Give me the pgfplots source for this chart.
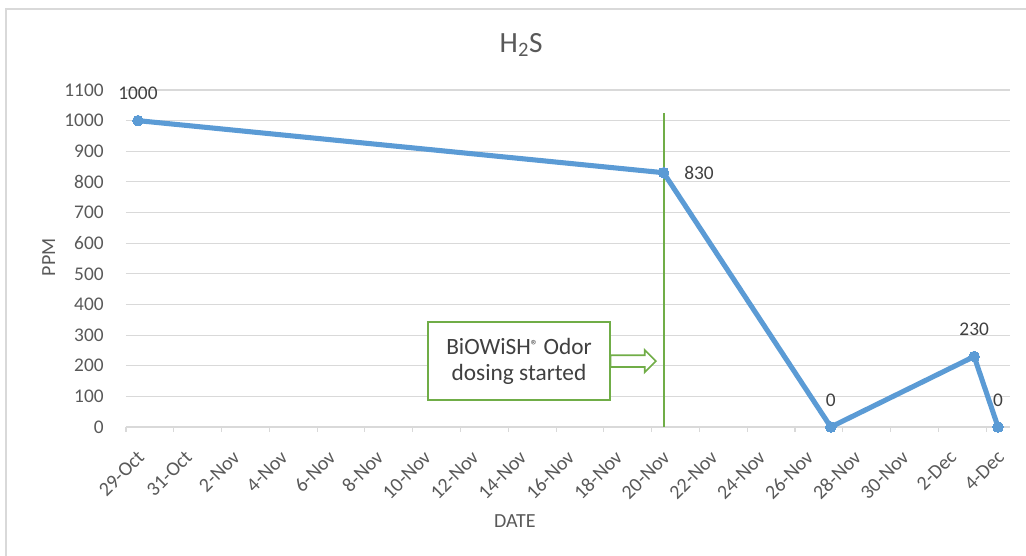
\documentclass[border=0pt]{standalone}
\usepackage{fontspec}
\setmainfont{Carlito}
\usepackage{pgfplots}
\pgfplotsset{compat=1.18}
\usepackage{pgfplotstable}
\usetikzlibrary{shapes.arrows}

\definecolor{lineblue}{HTML}{5B9BD5}
\definecolor{markgreen}{HTML}{70AD47}
\definecolor{txtgray}{HTML}{595959}
\definecolor{txtdark}{HTML}{404040}
\definecolor{gridgray}{HTML}{D9D9D9}

% days counted from 29-Oct; points sit in the middle of their day
\pgfplotstableread{
x    y
0.5  1000
22.5 830
29.5 0
35.5 230
36.5 0
}\hstable

\begin{document}
\begin{tikzpicture}
\path[use as bounding box] (-94.5pt,-96.75pt) rectangle (675pt,320.25pt);
\draw[gridgray, line width=0.8pt] (-90pt,-96.75pt) -- (-90pt,313.5pt) -- (675pt,313.5pt);
\begin{axis}[
    at={(0,0)}, anchor=south west,
    scale only axis,
    width=663pt, height=252.75pt,
    xmin=0, xmax=37,
    ymin=0, ymax=1100,
    clip=false,
    axis lines*=left,
    x axis line style={gridgray, line width=0.8pt},
    y axis line style={draw=none},
    xtick={0,2,...,36},
    xticklabels={29-Oct,31-Oct,2-Nov,4-Nov,6-Nov,8-Nov,10-Nov,12-Nov,14-Nov,16-Nov,18-Nov,20-Nov,22-Nov,24-Nov,26-Nov,28-Nov,30-Nov,2-Dec,4-Dec},
    ytick={0,100,...,1100},
    tick align=outside,
    major tick length=3.75pt,
    xtick style={gridgray, line width=0.8pt},
    ytick style={draw=none},
    ymajorgrids,
    grid style={gridgray, line width=0.8pt},
    /pgf/number format/assume math mode=true,
    /pgf/number format/1000 sep={},
    ticklabel style={font=\fontsize{14.5}{17}\selectfont, text=txtgray},
    yticklabel style={xshift=-9.5pt},
    xticklabel style={font=\fontsize{15}{18}\selectfont, xshift=11.25pt, yshift=-16.5pt, rotate=45, anchor=east, inner sep=0pt},
    title={H\textsubscript{2}S},
    title style={at={(axis description cs:0.447,1.089)}, anchor=base, font=\fontsize{22}{26}\selectfont, text=txtgray},
    xlabel={DATE},
    xlabel style={at={(axis description cs:0.440,-0.297)}, anchor=base, font=\fontsize{15}{18}\selectfont, text=txtgray},
    ylabel={PPM},
    ylabel style={at={(axis description cs:-0.0803,0.504)}, anchor=base, font=\fontsize{15}{18}\selectfont, text=txtgray},
    every node near coord/.append style={font=\fontsize{14.5}{17}\selectfont, text=txtdark},
]
% start of dosing
\addplot[markgreen, line width=1.5pt] coordinates {(22.5,0) (22.5,1025)};

\addplot[lineblue, line width=3.8pt, line join=round, line cap=round,
    mark=*, mark size=4pt, mark options={fill=lineblue, draw=lineblue, line width=0pt}]
    table[x=x, y=y] {\hstable};

% data labels
\addplot[draw=none, mark=none, nodes near coords,
    every node near coord/.append style={anchor=south, yshift=12pt}]
    coordinates {(0.5,1000) (29.5,0) (35.5,230) (36.5,0)};
\addplot[draw=none, mark=none, nodes near coords,
    every node near coord/.append style={anchor=west, xshift=12pt}]
    coordinates {(22.5,830)};

\node[draw=markgreen, line width=1.2pt, fill=white, minimum width=136.5pt, minimum height=58.5pt,
    align=center, font=\fontsize{17.5}{19.5}\selectfont, text=txtdark]
    at (axis cs:16.45,215) {BiOWiSH{\fontsize{11}{11}\selectfont\raisebox{0.55ex}{®}} Odor\\dosing started};
\node[single arrow, draw=markgreen, line width=1.2pt, fill=white, inner sep=3.8pt,
    single arrow head extend=4pt, minimum height=34pt, anchor=west]
    at (axis cs:20.25,215) {};
\end{axis}
\end{tikzpicture}
\end{document}
